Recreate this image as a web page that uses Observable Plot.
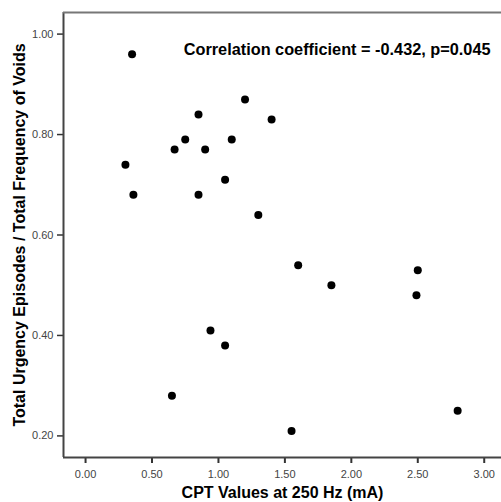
<!DOCTYPE html>
<html>
<head>
<meta charset="utf-8">
<script src="https://cdn.jsdelivr.net/npm/d3@7"></script>
<script src="https://cdn.jsdelivr.net/npm/@observablehq/plot@0.6"></script>
<style>
  html, body { margin: 0; padding: 0; background: #fff; }
  svg { display: block; }
</style>
</head>
<body>
<div id="chart"></div>
<script>
const cptValues = [0.35, 0.30, 0.36, 0.67, 0.75, 0.85, 0.90, 0.85, 1.05, 1.10, 1.20, 1.40, 1.30, 0.94, 1.05, 0.65, 1.60, 1.85, 2.50, 2.49, 2.80, 1.55];
const urgencyRatio = [0.96, 0.74, 0.68, 0.77, 0.79, 0.84, 0.77, 0.68, 0.71, 0.79, 0.87, 0.83, 0.64, 0.41, 0.38, 0.28, 0.54, 0.50, 0.53, 0.48, 0.25, 0.21];
const xTicks = [0, 0.5, 1, 1.5, 2, 2.5, 3];
const yTicks = [0.2, 0.4, 0.6, 0.8, 1.0];
const xDomain = [-0.166, 3.13];
const yDomain = [0.157, 1.043];
const xLabel = "CPT Values at 250 Hz (mA)";
const yLabel = "Total Urgency Episodes / Total Frequency of Voids";
const annotation = "Correlation coefficient = -0.432, p=0.045";

const data = cptValues.map((x, i) => ({x, y: urgencyRatio[i]}));
const font = "'Liberation Sans', Arial, sans-serif";

const chart = Plot.plot({
  width: 501,
  height: 502,
  marginLeft: 63,
  marginRight: 0,
  marginTop: 12,
  marginBottom: 45,
  style: {fontFamily: font, background: "#fff"},
  x: {domain: xDomain, ticks: xTicks, tickFormat: d3.format(".2f")},
  y: {domain: yDomain, ticks: yTicks, tickFormat: d3.format(".2f")},
  marks: [
    Plot.axisX({ticks: xTicks, tickFormat: d3.format(".2f"), tickSize: 6, tickPadding: 7, fontSize: 11, fill: "#444", stroke: "#333", strokeWidth: 2, label: null}),
    Plot.axisY({ticks: yTicks, tickFormat: d3.format(".2f"), tickSize: 6, tickPadding: 4, fontSize: 11, fill: "#444", stroke: "#333", strokeWidth: 1.5, label: null}),
    Plot.ruleX([xDomain[0]], {stroke: "#444", strokeWidth: 2}),
    Plot.ruleY([yDomain[0]], {stroke: "#444", strokeWidth: 2}),
    Plot.ruleY([yDomain[1]], {stroke: "#777", strokeWidth: 2}),
    Plot.dot(data, {x: "x", y: "y", r: 4, fill: "#000", stroke: "none"}),
    Plot.text([annotation], {frameAnchor: "top-right", dx: -11, dy: 37, lineAnchor: "middle", textAnchor: "end", fontSize: 16.3, fontWeight: "bold", fill: "#000"}),
    Plot.text([xLabel], {frameAnchor: "bottom", dy: 35, lineAnchor: "middle", textAnchor: "middle", fontSize: 16, fontWeight: "bold", fill: "#000"}),
    Plot.text([yLabel], {frameAnchor: "left", dx: -44, rotate: -90, lineAnchor: "middle", textAnchor: "middle", fontSize: 16, fontWeight: "bold", fill: "#000"})
  ]
});
document.getElementById("chart").appendChild(chart);
</script>
</body>
</html>
